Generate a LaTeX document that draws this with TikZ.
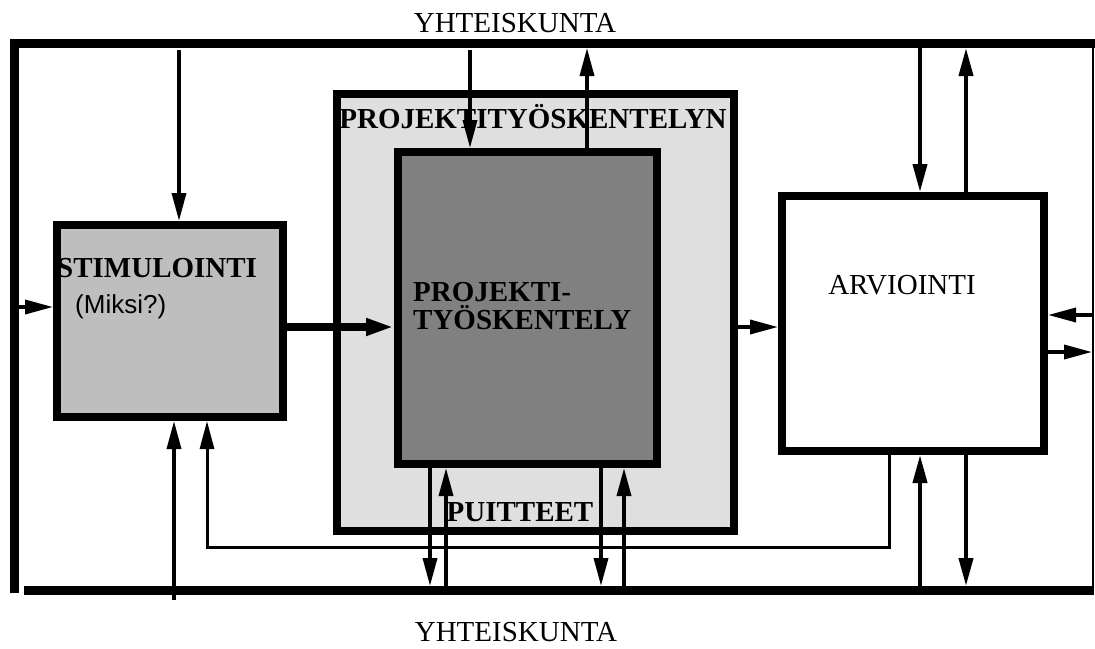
\documentclass[tikz,border=0pt]{standalone}
\usepackage{fontspec}
\setmainfont{Liberation Serif}
\setsansfont{Liberation Sans}
\usetikzlibrary{arrows.meta,positioning}
\definecolor{stimgray}{gray}{0.745}
\definecolor{framegray}{gray}{0.875}
\definecolor{workgray}{gray}{0.5}
\begin{document}
\begin{tikzpicture}[
  x=1pt, y=-1pt,
  box/.style={draw, rectangle, line width=8pt, inner sep=0pt},
  label/.style={font=\fontsize{29}{28}\selectfont, inner sep=0pt},
  boldlabel/.style={label, font=\fontsize{29}{28}\selectfont\bfseries},
  arr/.style={-{Triangle[length=28pt,width=14pt]}, line width=3.5pt},
  thickarr/.style={-{Triangle[length=28pt,width=16pt]}, line width=8pt},
  frame/.style={line width=9pt}
]
\useasboundingbox (0,0) rectangle (1095,648);
\draw[frame] (14.5,593) -- (14.5,43.5) -- (1095,43.5);
\draw[frame] (24,590.5) -- (1094,590.5);
\draw[line width=2.5pt] (1093,43.5) -- (1093,590.5);
\node[box, fill=stimgray, minimum width=226pt, minimum height=192pt] (stim) at (170,321) {};
\node[box, fill=framegray, minimum width=397pt, minimum height=437pt] (frame) at (535.5,312.5) {};
\node[box, fill=workgray, minimum width=259pt, minimum height=312pt] (work) at (527.5,308) {};
\node[box, fill=white, minimum width=262pt, minimum height=255pt] (eval) at (913,323.5) {};
\node[label] (socup) at (515,23) {YHTEISKUNTA};
\node[label] (socdown) at (516,632) {YHTEISKUNTA};
\node[boldlabel] (framename) at (533,117) {PROJEKTITYÖSKENTELYN};
\node[boldlabel] (setting) at (520,512) {PUITTEET};
\node[boldlabel, anchor=west] (stimname) at (57,268) {STIMULOINTI};
\node[label, font=\sffamily\fontsize{26}{28}\selectfont, anchor=west] (why) at (75,307) {(Miksi?)};
\node[boldlabel, anchor=west, align=left] (workname) at (413,306) {PROJEKTI-\\TYÖSKENTELY};
\node[label] (evalname) at (902,285) {ARVIOINTI};
\coordinate (s1) at (179,50);
\coordinate (s2) at (19,307);
\coordinate (s3) at (stim.east |- 0,327);
\coordinate (u1) at (174,600);
\coordinate (p1) at (470,50);
\coordinate (p2) at (587,48);
\coordinate (g1) at (frame.east |- 0,327);
\coordinate (i1) at (430,586);
\coordinate (i2) at (446,586);
\coordinate (i3) at (601,586);
\coordinate (i4) at (624,586);
\coordinate (a1) at (920,48);
\coordinate (a2) at (966,48);
\coordinate (b1) at (920,586);
\coordinate (b2) at (966,586);
\coordinate (r1) at (1092,315);
\coordinate (r2) at (1092,352);
\coordinate (f1) at (889,547);
\coordinate (f2) at (207,547);
\draw[arr] (s1) -- (s1 |- stim.north);
\draw[arr] (s2) -- (s2 -| stim.west);
\draw[thickarr] (s3) -- (s3 -| work.west);
\draw[arr] (u1) -- (u1 |- stim.south);
\draw[arr] (p1) -- (p1 |- work.north);
\draw[arr] (p2 |- work.north) -- (p2);
\draw[arr] (g1) -- (g1 -| eval.west);
\draw[arr] (i1 |- work.south) -- (i1);
\draw[arr] (i2) -- (i2 |- work.south);
\draw[arr] (i3 |- work.south) -- (i3);
\draw[arr] (i4) -- (i4 |- work.south);
\draw[arr, line width=4pt] (a1) -- (a1 |- eval.north);
\draw[arr, line width=4pt] (a2 |- eval.north) -- (a2);
\draw[arr, line width=4pt] (b1) -- (b1 |- eval.south);
\draw[arr, line width=4pt] (b2 |- eval.south) -- (b2);
\draw[arr] (r1) -- (r1 -| eval.east);
\draw[arr] (r2 -| eval.east) -- (r2);
\draw[arr, line width=3pt] (f1 |- eval.south) -- (f1) -- (f2) -- (f2 |- stim.south);
\end{tikzpicture}
\end{document}
